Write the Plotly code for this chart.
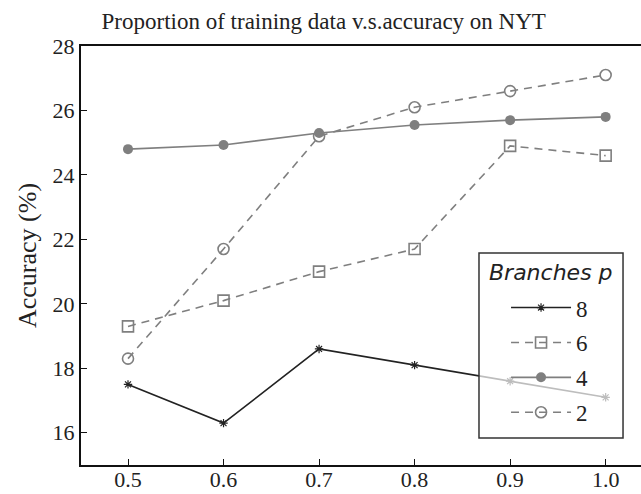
import plotly.graph_objects as go

# Proportion of training data used
proportions = [0.5, 0.6, 0.7, 0.8, 0.9, 1.0]

# Accuracy (%) for each number of branches p
acc_p8 = [17.5, 16.3, 18.6, 18.1, 17.6, 17.1]
acc_p6 = [19.3, 20.1, 21.0, 21.7, 24.9, 24.6]
acc_p4 = [24.8, 24.93, 25.3, 25.55, 25.7, 25.8]
acc_p2 = [18.3, 21.7, 25.2, 26.1, 26.6, 27.1]

x_ticks = [0.5, 0.6, 0.7, 0.8, 0.9, 1.0]
x_tick_text = ["0.5", "0.6", "0.7", "0.8", "0.9", "1.0"]
y_ticks = [16, 18, 20, 22, 24, 26, 28]

GRAY = "#7f7f7f"
DARK = "#222222"
SERIF = "Liberation Serif, Times New Roman, serif"

fig = go.Figure()

fig.add_trace(go.Scatter(
    x=proportions, y=acc_p8, name="8", mode="lines+markers", legendgroup="p8",
    line=dict(color=DARK, width=1.6),
    marker=dict(symbol="asterisk-open", size=7, color=DARK,
                line=dict(color=DARK, width=1.2)),
))
fig.add_trace(go.Scatter(
    x=proportions, y=acc_p6, name="6", mode="lines+markers", legendgroup="p6",
    line=dict(color=GRAY, width=1.6, dash="8px,6px"),
    marker=dict(symbol="square-open", size=11, color=GRAY,
                line=dict(color=GRAY, width=1.6)),
))
fig.add_trace(go.Scatter(
    x=proportions, y=acc_p4, name="4", mode="lines+markers", legendgroup="p4",
    line=dict(color=GRAY, width=1.6),
    marker=dict(symbol="circle", size=10, color=GRAY,
                line=dict(color=GRAY, width=0)),
))
fig.add_trace(go.Scatter(
    x=proportions, y=acc_p2, name="2", mode="lines+markers", legendgroup="p2",
    line=dict(color=GRAY, width=1.6, dash="8px,6px"),
    marker=dict(symbol="circle-open", size=11, color=GRAY,
                line=dict(color=GRAY, width=1.6)),
))

# Legend frame: translucent white panel above the traces
legend_box = dict(x0=0.7107, x1=0.9679, y0=0.0644, y1=0.506)
fig.add_shape(type="rect", xref="paper", yref="paper", layer="above",
              fillcolor="rgba(255,255,255,0.7)",
              line=dict(color="#333", width=1.5), **legend_box)
fig.add_annotation(text="<i>Branches p</i>", xref="paper", yref="paper",
                   x=(legend_box["x0"] + legend_box["x1"]) / 2, y=0.459,
                   xanchor="center", yanchor="middle", showarrow=False,
                   font=dict(family="DejaVu Sans", size=22, color="#222"))

fig.update_layout(
    width=641, height=494,
    margin=dict(l=81, r=0, t=46, b=29),
    paper_bgcolor="white", plot_bgcolor="white",
    font=dict(family=SERIF, size=22, color="#222"),
    title=dict(text="Proportion of training data v.s.accuracy on NYT",
               x=0.505, xanchor="center", y=0.958, yanchor="middle",
               font=dict(family=SERIF, size=23, color="#222")),
    xaxis=dict(range=[0.4508, 1.037], tickvals=x_ticks, ticktext=x_tick_text,
               showgrid=False, zeroline=False, showline=True, linewidth=2,
               linecolor="#111", mirror=True, ticks="inside", ticklen=6,
               tickwidth=1, tickcolor="#111", ticklabelstandoff=-6,
               tickfont=dict(family=SERIF, size=22, color="#222")),
    yaxis=dict(range=[15, 28], tickvals=y_ticks,
               showgrid=False, zeroline=False, showline=True, linewidth=2,
               linecolor="#111", mirror=False, ticks="inside", ticklen=6,
               tickwidth=1, tickcolor="#111",
               title=dict(text="Accuracy (%)", standoff=8,
                          font=dict(family=SERIF, size=26, color="#222")),
               tickfont=dict(family=SERIF, size=22, color="#222")),
    legend=dict(
        x=0.759, y=0.427, xanchor="left", yanchor="top",
        bgcolor="rgba(0,0,0,0)", borderwidth=0,
        itemwidth=60,
        font=dict(family=SERIF, size=23, color="#222"),
        tracegroupgap=2,
    ),
)

fig.write_html("out.html")
